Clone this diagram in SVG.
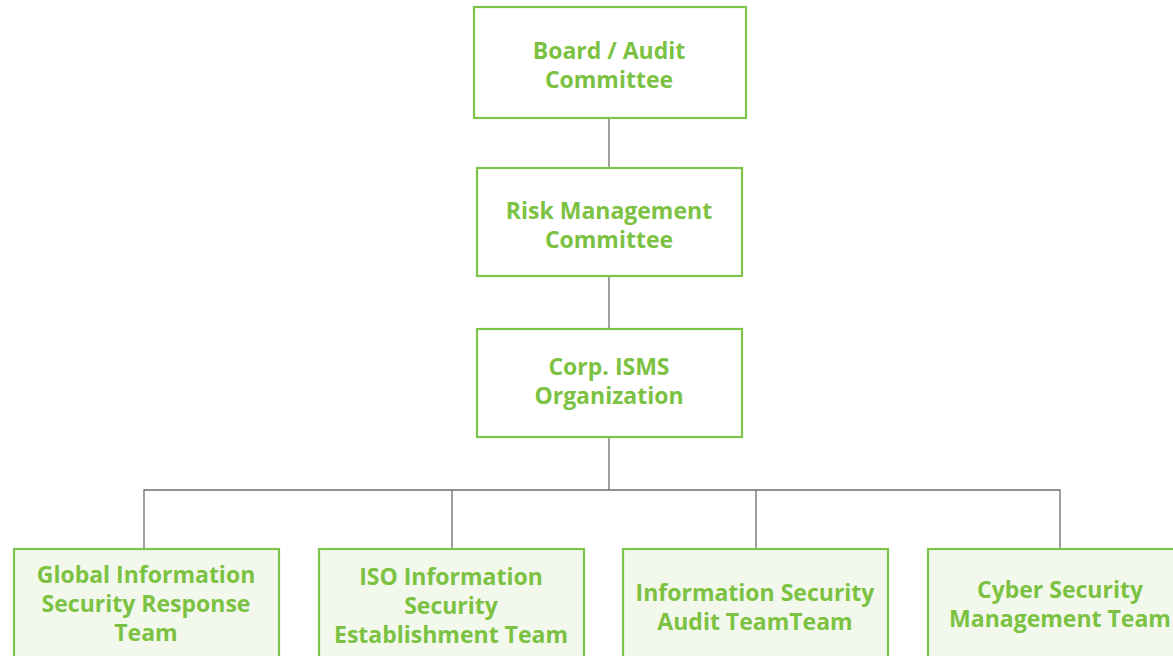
<svg xmlns="http://www.w3.org/2000/svg" width="1173" height="656" viewBox="0 0 1173 656">
<style>
.box{fill:#ffffff;stroke:#7ec44c;stroke-width:2.2}
.sub{fill:#f2f8ec;stroke:#7ec44c;stroke-width:2.2}
.t{font-family:"Open Sans","Noto Sans",sans-serif;font-weight:bold;font-size:23px;fill:#7cc242;text-anchor:middle;font-variant-ligatures:none}
.c{fill:none;stroke:#6e6e6e;stroke-width:1.3}
</style>
<rect width="1173" height="656" fill="#ffffff"/>
<g id="connectors">
<line class="c" x1="609" y1="118" x2="609" y2="168"/>
<line class="c" x1="609" y1="276" x2="609" y2="329"/>
<line class="c" x1="609" y1="437" x2="609" y2="490"/>
<polyline class="c" points="144,549 144,490 1060,490 1060,549"/>
<line class="c" x1="452" y1="490" x2="452" y2="549"/>
<line class="c" x1="756" y1="490" x2="756" y2="549"/>
</g>
<g id="board">
<rect class="box" x="474" y="7" width="272" height="111"/>
<text class="t" x="609" y="59">Board / Audit</text>
<text class="t" x="609" y="88">Committee</text>
</g>
<g id="risk">
<rect class="box" x="477" y="168" width="265" height="108"/>
<text class="t" x="609" y="219">Risk Management</text>
<text class="t" x="609" y="248">Committee</text>
</g>
<g id="isms">
<rect class="box" x="477" y="329" width="265" height="108"/>
<text class="t" x="609" y="375">Corp. ISMS</text>
<text class="t" x="609" y="404">Organization</text>
</g>
<g id="global">
<rect class="sub" x="14" y="549" width="265" height="120"/>
<text class="t" x="146" y="583">Global Information</text>
<text class="t" x="146" y="612">Security Response</text>
<text class="t" x="146" y="641">Team</text>
</g>
<g id="iso">
<rect class="sub" x="319" y="549" width="265" height="120"/>
<text class="t" x="451" y="585">ISO Information</text>
<text class="t" x="451" y="614">Security</text>
<text class="t" x="451" y="643">Establishment Team</text>
</g>
<g id="audit">
<rect class="sub" x="623" y="549" width="265" height="120"/>
<text class="t" x="755" y="601">Information Security</text>
<text class="t" x="755" y="630">Audit TeamTeam</text>
</g>
<g id="cyber">
<rect class="sub" x="928" y="549" width="265" height="120"/>
<text class="t" x="1060" y="598">Cyber Security</text>
<text class="t" x="1060" y="627">Management Team</text>
</g>
</svg>
